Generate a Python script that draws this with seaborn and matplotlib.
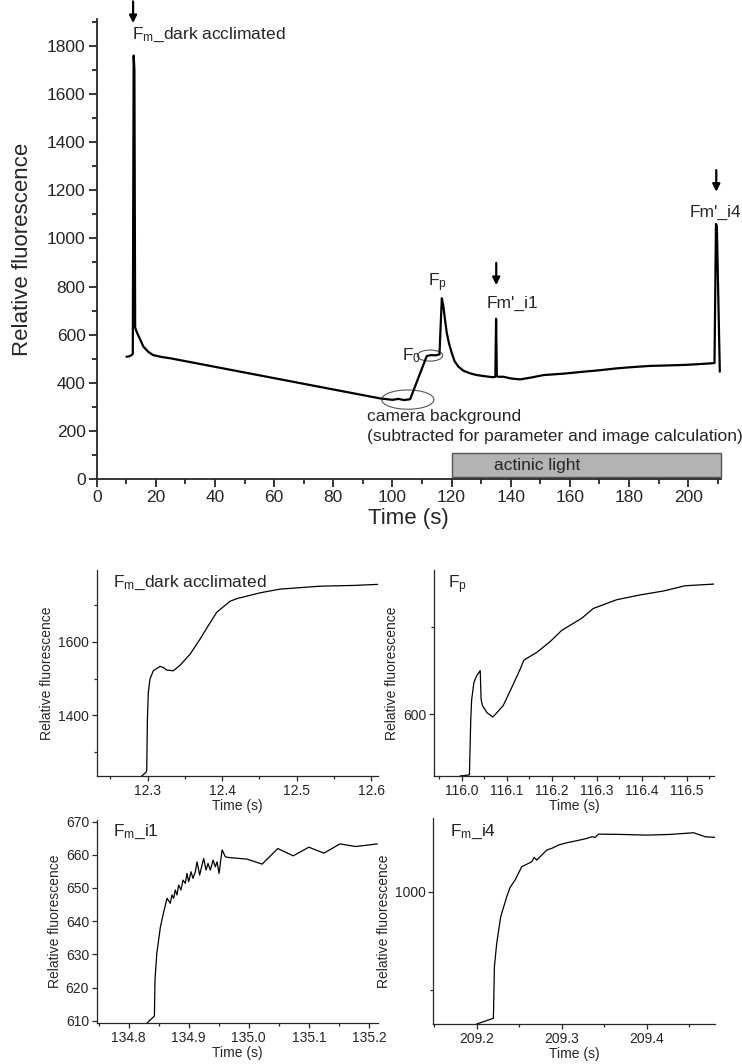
import numpy as np
import seaborn as sns
import matplotlib.pyplot as plt
from matplotlib.patches import Rectangle, Ellipse
from matplotlib.ticker import MultipleLocator

# main trace (time in s, relative fluorescence)
main_time = [10.1, 11.0, 11.8, 12.2, 12.5, 12.75, 13.0, 13.5, 14.5, 15.8, 17.5, 19.1, 22.0, 24.8,
             95.8, 98.0, 100.0, 102.0, 104.0, 106.0, 111.6, 113.0, 114.5, 115.9,
             116.7, 117.2, 117.8, 118.4, 119.2, 120.1, 121.0, 122.3, 124.0, 126.3, 128.5, 130.8, 133.9,
             134.8, 135.05, 135.3, 135.6, 137.5, 140.0, 143.2, 147.0, 151.1, 158.0, 164.6, 170.0,
             175.9, 181.0, 187.1, 193.0, 198.4, 203.0, 208.0, 208.9, 209.4, 209.7, 210.7]
main_fluo = [508, 510, 515, 520, 1760, 1700, 630, 612, 585, 550, 528, 515, 507, 502,
             335, 332, 329, 333, 328, 332, 511, 515, 514, 518,
             751, 720, 660, 605, 560, 522, 490, 467, 450, 439, 432, 428, 423,
             425, 666, 430, 425, 425, 418, 414, 422, 432, 438, 446, 452,
             460, 465, 470, 472, 474, 477, 481, 482, 1060, 1050, 446]

# zoom: Fm dark acclimated
fm_time = [12.292, 12.2977, 12.2987, 12.2996, 12.3008, 12.303, 12.3075, 12.3165, 12.321, 12.3255,
           12.3344, 12.3434, 12.3569, 12.3703, 12.3815, 12.3927, 12.4106, 12.4195, 12.451,
           12.4778, 12.5317, 12.576, 12.61]
fm_fluo = [1235, 1245, 1250, 1388, 1461, 1498, 1521, 1533, 1530, 1523,
           1521, 1536, 1566, 1607, 1644, 1680, 1710, 1717, 1733,
           1743, 1751, 1753, 1756]

# zoom: Fp
fp_time = [115.996, 116.017, 116.020, 116.022, 116.027, 116.033, 116.041, 116.043, 116.046, 116.056,
           116.069, 116.078, 116.092, 116.104, 116.118, 116.130, 116.138, 116.167, 116.196, 116.222,
           116.267, 116.292, 116.344, 116.396, 116.448, 116.496, 116.563]
fp_fluo = [529.6, 530.8, 594, 617, 636.5, 644, 650, 617, 610, 602,
           597, 602, 610, 623, 638.5, 652, 662, 671, 683, 696,
           710, 721, 731, 736.5, 741, 747, 749]

# zoom: Fm'_i1
i1_time = [134.829, 134.843, 134.844, 134.847, 134.850, 134.853, 134.858, 134.864, 134.8694, 134.8722,
           134.875, 134.8778, 134.8806, 134.8833, 134.8872, 134.8906, 134.8944, 134.8972, 134.9,
           134.9039, 134.9072, 134.9111, 134.9139, 134.9183, 134.9222, 134.925, 134.9289, 134.9322,
           134.9361, 134.9406, 134.9444, 134.9472, 134.9506, 134.9556, 134.9611, 134.9667, 134.9972,
           135.0222, 135.0483, 135.0739, 135.1, 135.125, 135.1517, 135.1778, 135.214]
i1_fluo = [609.0, 611.4, 622.3, 630.3, 634.3, 638.3, 642.4, 646.9, 645.4, 647.9,
           646.9, 649.4, 647.9, 650.9, 649.4, 652.4, 651.4, 654.4, 651.9,
           654.9, 652.9, 654.9, 657.9, 653.9, 656.9, 658.9, 655.4, 657.4,
           655.4, 658.4, 656.4, 657.9, 654.4, 661.5, 659.4, 659.2, 658.7,
           657.2, 661.9, 659.7, 662.3, 660.5, 663.3, 662.5, 663.3]

# zoom: Fm'_i4
i4_time = [209.2, 209.2196, 209.2208, 209.2235, 209.2282, 209.2353, 209.2392, 209.2451, 209.2529,
           209.2569, 209.2647, 209.2675, 209.2706, 209.2784, 209.2824, 209.2882, 209.2961, 209.3059,
           209.3176, 209.3294, 209.3353, 209.3392, 209.3431, 209.3686, 209.4, 209.4275, 209.4549,
           209.4686, 209.4804]
i4_fluo = [865.4, 871.2, 923.7, 947.5, 974.6, 994.9, 1004.4, 1011.9, 1025.4,
           1027.1, 1030.5, 1034.9, 1032.2, 1039.0, 1042.4, 1044.1, 1047.5, 1049.8,
           1051.9, 1054.2, 1055.9, 1055.3, 1058.6, 1058.3, 1057.6, 1058.3, 1060.0,
           1055.9, 1055.3]

sns.set_style("ticks")
plt.rcParams['font.family'] = ['Liberation Sans', 'DejaVu Sans']
plt.rcParams['mathtext.fontset'] = 'custom'
plt.rcParams['mathtext.rm'] = 'Liberation Sans'
plt.rcParams['mathtext.it'] = 'Liberation Sans:italic'

W, H = 742, 1064
fig = plt.figure(figsize=(W / 100, H / 100), dpi=100)


def box(l, t, r, b):
    return [l / W, 1 - b / H, (r - l) / W, (b - t) / H]


def style_axis(ax, lw, major, minor, size):
    for s in ['top', 'right']:
        ax.spines[s].set_visible(False)
    for s in ['left', 'bottom']:
        ax.spines[s].set_linewidth(lw)
    ax.tick_params(which='major', direction='out', length=major, width=lw, labelsize=size, pad=2)
    ax.tick_params(which='minor', direction='out', length=minor, width=lw)


# ---- main chart
ax = fig.add_axes(box(96.7, 19, 721, 479))
sns.lineplot(x=main_time, y=main_fluo, ax=ax, color='k', lw=1.6, sort=False, estimator=None)
ax.set_xlim(0, 211.1)
ax.set_ylim(0, 1912)
ax.xaxis.set_major_locator(MultipleLocator(20))
ax.xaxis.set_minor_locator(MultipleLocator(10))
ax.yaxis.set_major_locator(MultipleLocator(200))
ax.yaxis.set_minor_locator(MultipleLocator(100))
style_axis(ax, 1.3, 6, 3.5, 12.5)
ax.set_xlabel('Time (s)', fontsize=16, labelpad=2)
ax.set_ylabel('Relative fluorescence', fontsize=16, labelpad=10)

ax.add_patch(Rectangle((120, 10), 91.1, 100, facecolor='#b3b3b3', edgecolor='#555555', lw=1, clip_on=False))
ax.text(149, 58, 'actinic light', fontsize=12.5, ha='center', va='center')
ax.add_patch(Ellipse((105.2, 330), 17.7, 80, fill=False, edgecolor='#555555', lw=0.8))
ax.add_patch(Ellipse((112.7, 513), 8.6, 46, fill=False, edgecolor='#555555', lw=0.8))
ax.text(91.4, 259, 'camera background', fontsize=12.5, va='center')
ax.text(91.4, 176, '(subtracted for parameter and image calculation)', fontsize=12.5, va='center')
ax.text(103.2, 512, r'F$_\mathrm{0}$', fontsize=12.5, ha='left', va='center')
ax.text(115.3, 818, r'F$_\mathrm{p}$', fontsize=12.5, ha='center', va='center')
ax.text(11.8, 1845, r'F$_\mathrm{m}$_dark acclimated', fontsize=12.5, va='center')
ax.text(140.6, 731, "Fm'_i1", fontsize=12.5, ha='center', va='center')
ax.text(209.3, 1110, "Fm'_i4", fontsize=12.5, ha='center', va='center')
arrow = dict(arrowstyle='-|>', color='k', lw=1.6, mutation_scale=11, shrinkA=0, shrinkB=0)
for ax_x, y0, y1 in [(12.3, 1985, 1895), (135.1, 898, 806), (209.5, 1284, 1194)]:
    ax.annotate('', xy=(ax_x, y1), xytext=(ax_x, y0), arrowprops=arrow, annotation_clip=False)

# ---- zoom panels
panels = [
    (box(96.7, 570, 377.7, 776), fm_time, fm_fluo, (12.2315, 12.609), (1235, 1795), 200, 100,
     r'F$_\mathrm{m}$_dark acclimated', (0.058, 0.94)),
    (box(434.3, 570, 714.3, 776), fp_time, fp_fluo, (115.939, 116.561), (529.6, 765), 200, 100,
     r'F$_\mathrm{p}$', (0.05, 0.93)),
    (box(96.7, 820, 378, 1023), i1_time, i1_fluo, (134.747, 135.215), (609.3, 670.5), 10, None,
     r'F$_\mathrm{m}$_i1', (0.059, 0.94)),
    (box(433.3, 818, 715, 1024), i4_time, i4_fluo, (209.149, 209.48), (865.4, 1075), 200, 100,
     r'F$_\mathrm{m}$_i4', (0.06, 0.935)),
]
for rect, xs, ys, xl, yl, ymaj, ymin, label, pos in panels:
    a = fig.add_axes(rect)
    sns.lineplot(x=xs, y=ys, ax=a, color='k', lw=0.9, sort=False, estimator=None)
    a.set_xlim(*xl)
    a.set_ylim(*yl)
    a.xaxis.set_major_locator(MultipleLocator(0.1))
    a.xaxis.set_minor_locator(MultipleLocator(0.05))
    a.yaxis.set_major_locator(MultipleLocator(ymaj))
    if ymin:
        a.yaxis.set_minor_locator(MultipleLocator(ymin))
    style_axis(a, 0.9, 3.5, 2.5, 10)
    a.set_xlabel('Time (s)', fontsize=10, labelpad=1)
    a.set_ylabel('Relative fluorescence', fontsize=10, labelpad=3)
    a.text(pos[0], pos[1], label, transform=a.transAxes, fontsize=12.5, va='center')

fig.savefig('out.png', dpi=100)
